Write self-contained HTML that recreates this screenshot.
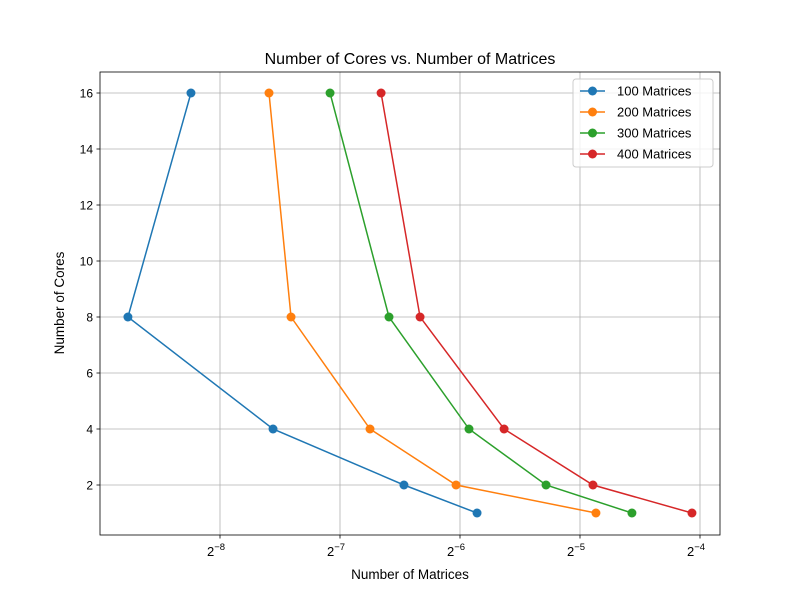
<!DOCTYPE html>
<html><head><meta charset="utf-8"><style>body{margin:0;background:#fff}svg{display:block;font-family:"Liberation Sans","DejaVu Sans",sans-serif}</style></head>
<body>
<svg id="chart" width="800" height="600">
<rect width="800" height="600" fill="#fff"/>
<text x="410" y="64" text-anchor="middle" font-size="16">Number of Cores vs. Number of Matrices</text>
<text x="410" y="579" text-anchor="middle" font-size="13.5">Number of Matrices</text>
<text transform="translate(64,303) rotate(-90)" text-anchor="middle" font-size="13.5">Number of Cores</text>
<g id="grid"></g><g id="series"></g><g id="axes"></g><g id="legend"></g>
</svg>
<script>
const cores = [16, 8, 4, 2, 1];
const seriesNames = ["100 Matrices", "200 Matrices", "300 Matrices", "400 Matrices"];
const m100 = [0.003303, 0.002295, 0.005306, 0.011303, 0.017242];
const m200 = [0.005184, 0.005888, 0.009291, 0.015272, 0.034263];
const m300 = [0.007376, 0.010369, 0.016459, 0.025684, 0.042181];
const m400 = [0.009905, 0.012406, 0.020156, 0.033675, 0.059663];
const xTickExps = [-8, -7, -6, -5, -4];
const yTicks = [2, 4, 6, 8, 10, 12, 14, 16];
const colors = ["#1f77b4", "#ff7f0e", "#2ca02c", "#d62728"];
const L=100,R=720,T=72,B=535;
const xMin=-9,xMax=-3.8333,yMin=0.2143,yMax=16.75;
const xs=v=>L+(Math.log2(v)-xMin)/(xMax-xMin)*(R-L);
const ys=v=>B-(v-yMin)/(yMax-yMin)*(B-T);
const NS="http://www.w3.org/2000/svg";
function mk(t,a,p){const e=document.createElementNS(NS,t);for(const k in a)e.setAttribute(k,a[k]);p.appendChild(e);return e;}
const grid=document.getElementById('grid'),axes=document.getElementById('axes'),ser=document.getElementById('series'),leg=document.getElementById('legend');
xTickExps.forEach(e=>{const x=xs(Math.pow(2,e));
 const g=mk('line',{x1:x,x2:x,y1:T,y2:B,stroke:'#b0b0b0','stroke-width':0.8},grid);
 
 
 mk('line',{x1:x,x2:x,y1:B,y2:B+3.5,stroke:'#000','stroke-width':0.8},axes);
 const t=mk('text',{x:x-4,y:B+21,'text-anchor':'middle','font-size':13},axes);
 
 
 t.textContent='2';
 const s=mk('tspan',{dy:-6,'font-size':9.5},t);s.textContent='\u2212'+Math.abs(e);
});
yTicks.forEach(v=>{const y=ys(v);
 const g=mk('line',{x1:L,x2:R,y1:y,y2:y,stroke:'#b0b0b0','stroke-width':0.8},grid);
 
 
 mk('line',{x1:L-3.5,x2:L,y1:y,y2:y,stroke:'#000','stroke-width':0.8},axes);
 const t=mk('text',{x:L-7,y:y+4.5,'text-anchor':'end','font-size':12},axes);
 
 
 t.textContent=v;
});
const fr=mk('rect',{x:L,y:T,width:R-L,height:B-T,fill:'none',stroke:'#000','stroke-width':0.8},axes);


[m100,m200,m300,m400].forEach((d,i)=>{
 const pl=mk('polyline',{points:d.map((v,j)=>xs(v)+','+ys(cores[j])).join(' '),fill:'none',stroke:colors[i],'stroke-width':1.5},ser);
 
 
 d.forEach((v,j)=>{const c=mk('circle',{cx:xs(v),cy:ys(cores[j]),r:4.5,fill:colors[i]},ser);
  
  });
});
const lb=mk('rect',{x:573,y:79,width:140,height:88,rx:3,fill:'#fff','fill-opacity':0.8,stroke:'#ccc'},leg);


seriesNames.forEach((n,i)=>{const y=91+i*21;
 mk('line',{x1:580,x2:605,y1:y,y2:y,stroke:colors[i],'stroke-width':1.5},leg);
 const c=mk('circle',{cx:592.5,cy:y,r:4.5,fill:colors[i]},leg);
 
 
 const t=mk('text',{x:617,y:y+4.5,'font-size':13},leg);
 
 
 t.textContent=n;});
</script>
</body></html>
